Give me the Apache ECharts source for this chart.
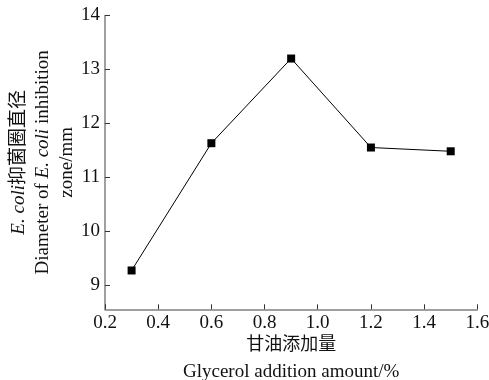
<!DOCTYPE html>
<html><head><meta charset="utf-8">
<script src="https://cdn.jsdelivr.net/npm/echarts@6/dist/echarts.min.js"></script>
<style>html,body{margin:0;padding:0;background:#fff}#c{width:489px;height:380px}</style>
</head><body><div id="c"></div>
<script>
const xValues = [0.3, 0.6, 0.9, 1.2, 1.5];
const yValues = [9.27, 11.63, 13.20, 11.55, 11.48];
const yTicks = [9, 10, 11, 12, 13, 14];
const xTickLabels = ['0.2','0.4','0.6','0.8','1.0','1.2','1.4','1.6'];

const font = '"Liberation Serif", "Noto Sans CJK SC", serif';
const chart = echarts.init(document.getElementById('c'));
chart.setOption({
  animation: false,
  backgroundColor: '#fff',
  grid: { left: 105, right: 11.7, top: 15.4, bottom: 70.7, containLabel: false, outerBoundsMode: 'none' },
  xAxis: {
    type: 'value', min: 0.2, max: 1.6, interval: 0.2,
    axisLine: { lineStyle: { color: '#808080', width: 1.5 } },
    axisTick: { inside: true, length: 5, lineStyle: { color: '#333', width: 1 } },
    splitLine: { show: false },
    axisLabel: { color: '#111', fontFamily: font, fontSize: 19, margin: 4,
      formatter: v => xTickLabels[Math.round((v - 0.2) / 0.2)] },
    name: '{cn|甘油添加量}\n{en|Glycerol addition amount/%}',
    nameLocation: 'middle', nameGap: 22, nameMoveOverlap: false,
    nameTextStyle: { lineHeight: 27, rich: {
      cn: { fontFamily: font, fontSize: 18, color: '#111', lineHeight: 27 },
      en: { fontFamily: font, fontSize: 19, color: '#111', lineHeight: 27 } } }
  },
  yAxis: {
    type: 'value', min: 8.55, max: 14,
    axisLine: { show: true, lineStyle: { color: '#808080', width: 1.5 } },
    axisTick: { inside: true, length: 5, customValues: yTicks, lineStyle: { color: '#333', width: 1 } },
    splitLine: { show: false },
    axisLabel: { color: '#111', fontFamily: font, fontSize: 19, margin: 5, customValues: yTicks },
    name: '{i|E. coli}{n|抑菌圈直径}\n{n|Diameter of }{i|E. coli}{n| inhibition}\n{n|zone/mm}',
    nameLocation: 'middle', nameGap: 26, nameRotate: 90, nameMoveOverlap: false,
    nameTextStyle: { lineHeight: 24, align: 'center', rich: {
      n: { fontFamily: font, fontSize: 19, color: '#111', lineHeight: 24 },
      i: { fontFamily: font, fontSize: 19, fontStyle: 'italic', color: '#111', lineHeight: 24 } } }
  },
  series: [{
    type: 'line',
    data: xValues.map((x, i) => [x, yValues[i]]),
    symbol: 'rect', symbolSize: 8, showSymbol: true,
    lineStyle: { color: '#000', width: 1 },
    itemStyle: { color: '#000' }
  }]
});
</script></body></html>
